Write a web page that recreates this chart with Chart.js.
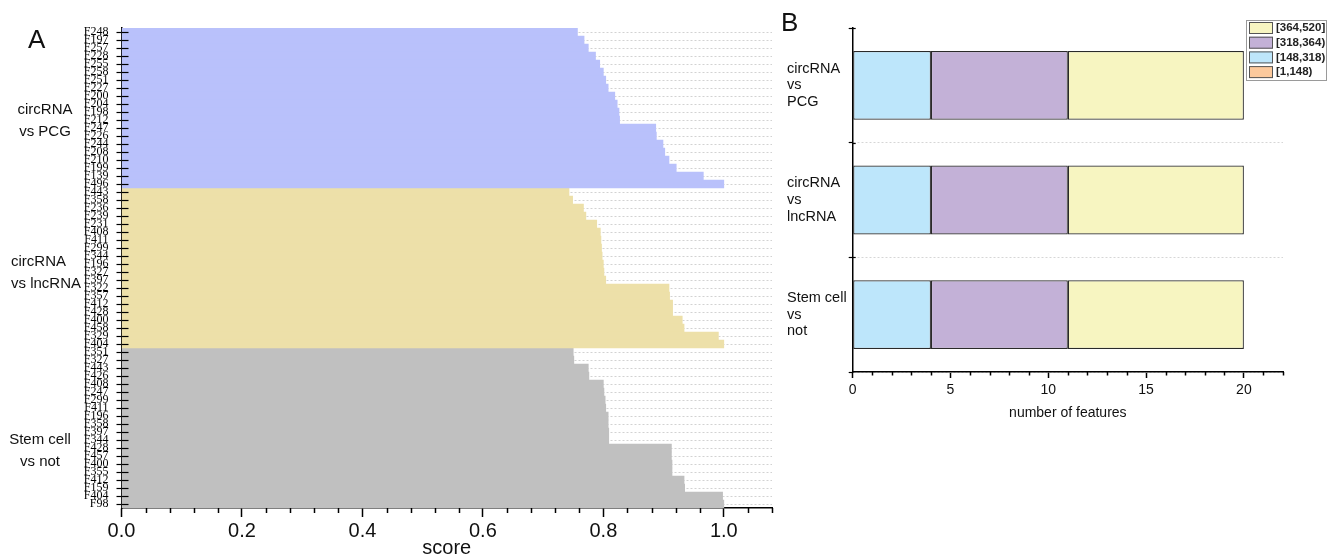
<!DOCTYPE html>
<html>
<head>
<meta charset="utf-8">
<title>Feature scores and feature counts</title>
<script src="https://cdn.jsdelivr.net/npm/chart.js@4.4.1/dist/chart.umd.min.js"></script>
<style>
  body { margin: 0; background: #fff; width: 1334px; height: 554px; overflow: hidden; position: relative; }
  .panel { position: absolute; top: 0; height: 554px; }
  #panelA { left: 0; width: 790px; }
  #panelB { left: 780px; width: 554px; }
  .tag { position: absolute; font-family: "Liberation Sans", Arial, sans-serif; font-size: 26px; line-height: 1; color: #111; }
</style>
</head>
<body>
<div class="panel" id="panelA"><canvas id="chartA" width="790" height="554"></canvas></div>
<div class="panel" id="panelB"><canvas id="chartB" width="554" height="554"></canvas></div>
<div class="tag" style="left:28px; top:26px;">A</div>
<div class="tag" style="left:781px; top:9px;">B</div>
<script>
// ---- panel A: feature scores per comparison ----
var pcgFeatures = ['F248','F197','F257','F228','F255','F258','F251','F227','F200','F204',
                   'F198','F212','F247','F226','F244','F208','F210','F199','F139','F496'];
var pcgScores = [0.757,0.768,0.775,0.787,0.794,0.800,0.804,0.808,0.819,0.823,
                 0.826,0.827,0.887,0.888,0.899,0.902,0.909,0.921,0.966,1.000];

var lncFeatures = ['F443','F358','F236','F239','F231','F408','F411','F299','F344','F196',
                   'F327','F397','F322','F357','F412','F428','F400','F458','F329','F404'];
var lncScores = [0.743,0.749,0.767,0.771,0.789,0.795,0.796,0.797,0.798,0.800,
                 0.801,0.804,0.909,0.910,0.915,0.915,0.931,0.934,0.991,1.000];

var stemFeatures = ['F351','F327','F443','F426','F408','F247','F299','F411','F196','F358',
                    'F397','F344','F428','F457','F400','F355','F412','F159','F404','F98'];
var stemScores = [0.750,0.751,0.775,0.776,0.800,0.801,0.803,0.804,0.808,0.808,
                  0.809,0.809,0.913,0.913,0.914,0.914,0.934,0.935,0.998,1.000];

var groupNames = [['circRNA', 'vs PCG'], ['circRNA', 'vs lncRNA'], ['Stem cell', 'vs not']];

// ---- panel B: number of features per length range ----
var comparisonLabels = [['circRNA', 'vs', 'PCG'], ['circRNA', 'vs', 'lncRNA'], ['Stem cell', 'vs', 'not']];
var rangeLabels = ['[1,148)', '[148,318)', '[318,364)', '[364,520]'];
var count1to148 = [0, 0, 0];
var count148to318 = [4, 4, 4];
var count318to364 = [7, 7, 7];
var count364to520 = [9, 9, 9];

var groupColors = ['#b9c1fb', '#ede0a9', '#c0c0c0'];
var rangeColors = ['#fcc99c', '#bde6fb', '#c3b1d7', '#f7f5c1'];

Chart.defaults.font.family = '"Liberation Sans", Arial, sans-serif';
Chart.defaults.color = '#111';

function pad(values, before, after) {
  return Array(before).fill(null).concat(values, Array(after).fill(null));
}

function isMajor(v, step) {
  return Math.abs(v / step - Math.round(v / step)) < 1e-6;
}

// short ticks for unlabeled x values + inner half of the y-axis crosses
function drawMinor(chart, len) {
  var sx = chart.scales.x, ctx = chart.ctx;
  ctx.save();
  ctx.strokeStyle = '#000';
  ctx.lineWidth = 1.5;
  sx.ticks.forEach(function(t) {
    if (t.label === '') {
      var x = Math.round(sx.getPixelForValue(t.value)) + 0.5;
      ctx.beginPath();
      ctx.moveTo(x, sx.top);
      ctx.lineTo(x, sx.top + len);
      ctx.stroke();
    }
  });
  ctx.restore();
}

function drawInner(chart, positions, len) {
  var sy = chart.scales.y, ctx = chart.ctx;
  ctx.save();
  ctx.strokeStyle = '#000';
  ctx.lineWidth = 1.2;
  positions.forEach(function(y) {
    ctx.beginPath();
    ctx.moveTo(sy.right, y);
    ctx.lineTo(sy.right + len, y);
    ctx.stroke();
  });
  ctx.restore();
}

var notePlacement = [
  {x: 45, align: 'center', dy: 2},
  {x: 11, align: 'left', dy: -6},
  {x: 40, align: 'center', dy: 12}
];

var panelADecor = {
  id: 'panelADecor',
  afterDatasetsDraw: function(chart) {
    var sy = chart.scales.y, ys = [];
    for (var i = 0; i < sy.ticks.length; i++) ys.push(Math.round(sy.getPixelForTick(i)) + 0.5);
    drawInner(chart, ys, 7);
  },
  afterDraw: function(chart) {
    drawMinor(chart, 5);
    var sy = chart.scales.y, ctx = chart.ctx;
    var sizes = [pcgFeatures.length, lncFeatures.length, stemFeatures.length];
    var start = 0;
    ctx.save();
    ctx.font = '15px "Liberation Sans", Arial, sans-serif';
    ctx.fillStyle = '#111';
    ctx.textBaseline = 'middle';
    groupNames.forEach(function(lines, g) {
      var mid = (sy.getPixelForValue(start) + sy.getPixelForValue(start + sizes[g] - 1)) / 2;
      var p = notePlacement[g];
      ctx.textAlign = p.align;
      lines.forEach(function(txt, k) {
        ctx.fillText(txt, p.x, mid + p.dy + k * 21.5);
      });
      start += sizes[g];
    });
    ctx.restore();
  }
};

var allFeatures = pcgFeatures.concat(lncFeatures, stemFeatures);
var nP = pcgFeatures.length, nL = lncFeatures.length, nS = stemFeatures.length;

new Chart(document.getElementById('chartA'), {
  type: 'bar',
  data: {
    labels: allFeatures,
    datasets: [
      {label: 'circRNA vs PCG', data: pad(pcgScores, 0, nL + nS), backgroundColor: groupColors[0]},
      {label: 'circRNA vs lncRNA', data: pad(lncScores, nP, nS), backgroundColor: groupColors[1]},
      {label: 'Stem cell vs not', data: pad(stemScores, nP + nL, 0), backgroundColor: groupColors[2]}
    ]
  },
  options: {
    indexAxis: 'y',
    responsive: false,
    animation: false,
    grouped: false,
    barPercentage: 1,
    categoryPercentage: 1,
    borderWidth: 0,
    layout: {padding: {left: 0, right: 18, top: 28, bottom: 0}},
    plugins: {legend: {display: false}, tooltip: {enabled: false}},
    scales: {
      x: {
        type: 'linear',
        min: 0,
        max: 1.08,
        ticks: {
          stepSize: 0.04,
          autoSkip: false,
          maxRotation: 0,
          padding: 2,
          font: {size: 20},
          callback: function(v) { return isMajor(v, 0.2) ? v.toFixed(1) : ''; }
        },
        grid: {
          drawOnChartArea: false,
          tickLength: 9,
          tickWidth: 1.5,
          tickColor: function(c) { return (c.tick && isMajor(c.tick.value, 0.2)) ? '#000' : 'rgba(0,0,0,0)'; }
        },
        border: {color: '#000', width: 1.5},
        title: {display: true, text: 'score', font: {size: 20}, padding: {top: 0, bottom: -6}},
        afterFit: function(s) { s.height = 46; }
      },
      y: {
        type: 'category',
        ticks: {
          autoSkip: false,
          padding: 8,
          color: '#000',
          font: {family: '"Liberation Serif", "Times New Roman", serif', size: 12}
        },
        grid: {
          offset: false,
          color: '#d2d2d2',
          tickColor: '#000',
          tickLength: 5,
          tickWidth: 1.2,
          tickBorderDash: []
        },
        border: {color: '#000', width: 1.5, dash: [2, 2]},
        afterFit: function(s) { s.width = 121.5; }
      }
    }
  },
  plugins: [panelADecor]
});

// ---- panel B ----
var legendBox = {
  id: 'legendBox',
  afterDraw: function(chart) {
    var ctx = chart.ctx, ds = chart.data.datasets;
    var x0 = 466, y0 = 20, w = 80, h = 60;
    ctx.save();
    ctx.fillStyle = '#fff';
    ctx.fillRect(x0, y0, w, h);
    ctx.strokeStyle = '#9a9a9a';
    ctx.lineWidth = 1;
    ctx.strokeRect(x0 + 0.5, y0 + 0.5, w, h);
    ctx.font = 'bold 11.5px "Liberation Sans", Arial, sans-serif';
    ctx.textBaseline = 'middle';
    ctx.textAlign = 'left';
    for (var i = 0; i < ds.length; i++) {
      var d = ds[ds.length - 1 - i];
      var cy = y0 + 8 + i * 14.7;
      ctx.fillStyle = d.backgroundColor;
      ctx.fillRect(x0 + 3, cy - 6, 24, 12);
      ctx.strokeStyle = '#555';
      ctx.strokeRect(x0 + 3.5, cy - 5.5, 23, 11);
      ctx.fillStyle = '#222';
      ctx.fillText(d.label, x0 + 30, cy);
    }
    ctx.restore();
  }
};

var panelBDecor = {
  id: 'panelBDecor',
  afterDraw: function(chart) {
    drawMinor(chart, 3.5);
    var sy = chart.scales.y, ys = [];
    for (var i = 0; i < comparisonLabels.length; i++) ys.push(Math.round(sy.getPixelForValue(i - 0.5)) + 0.5);
    drawInner(chart, ys, 3);
  }
};

new Chart(document.getElementById('chartB'), {
  type: 'bar',
  data: {
    labels: comparisonLabels,
    datasets: [
      {label: rangeLabels[0], data: count1to148, backgroundColor: rangeColors[0]},
      {label: rangeLabels[1], data: count148to318, backgroundColor: rangeColors[1]},
      {label: rangeLabels[2], data: count318to364, backgroundColor: rangeColors[2]},
      {label: rangeLabels[3], data: count364to520, backgroundColor: rangeColors[3]}
    ]
  },
  options: {
    indexAxis: 'y',
    responsive: false,
    animation: false,
    barPercentage: 0.6,
    categoryPercentage: 1,
    borderColor: '#2a2a2a',
    borderWidth: 1.2,
    borderSkipped: false,
    layout: {padding: {left: 7, right: 51, top: 25, bottom: 122}},
    plugins: {legend: {display: false}, tooltip: {enabled: false}},
    scales: {
      x: {
        stacked: true,
        min: 0,
        max: 22,
        ticks: {
          stepSize: 1,
          autoSkip: false,
          maxRotation: 0,
          padding: 4,
          font: {size: 14},
          callback: function(v) { return v % 5 === 0 ? String(v) : ''; }
        },
        grid: {
          drawOnChartArea: false,
          tickLength: 6,
          tickWidth: 1.5,
          tickColor: function(c) { return (c.tick && c.tick.value % 5 === 0) ? '#000' : 'rgba(0,0,0,0)'; }
        },
        border: {color: '#000', width: 1.5},
        title: {display: true, text: 'number of features', font: {size: 14}, padding: {top: 0, bottom: 10}},
        afterFit: function(s) { s.height = 60; }
      },
      y: {
        stacked: true,
        ticks: {
          crossAlign: 'far',
          color: '#111',
          font: {size: 14.5, lineHeight: 1.15}
        },
        grid: {
          offset: true,
          color: function(c) { return (c.index === 0 || c.index === comparisonLabels.length) ? 'rgba(0,0,0,0)' : '#d6d6d6'; },
          tickColor: '#000',
          tickLength: 4,
          tickWidth: 1.2,
          tickBorderDash: []
        },
        border: {color: '#000', width: 1.5, dash: [2, 2]},
        afterFit: function(s) { s.width = 65.7; }
      }
    }
  },
  plugins: [legendBox, panelBDecor]
});
</script>
</body>
</html>
